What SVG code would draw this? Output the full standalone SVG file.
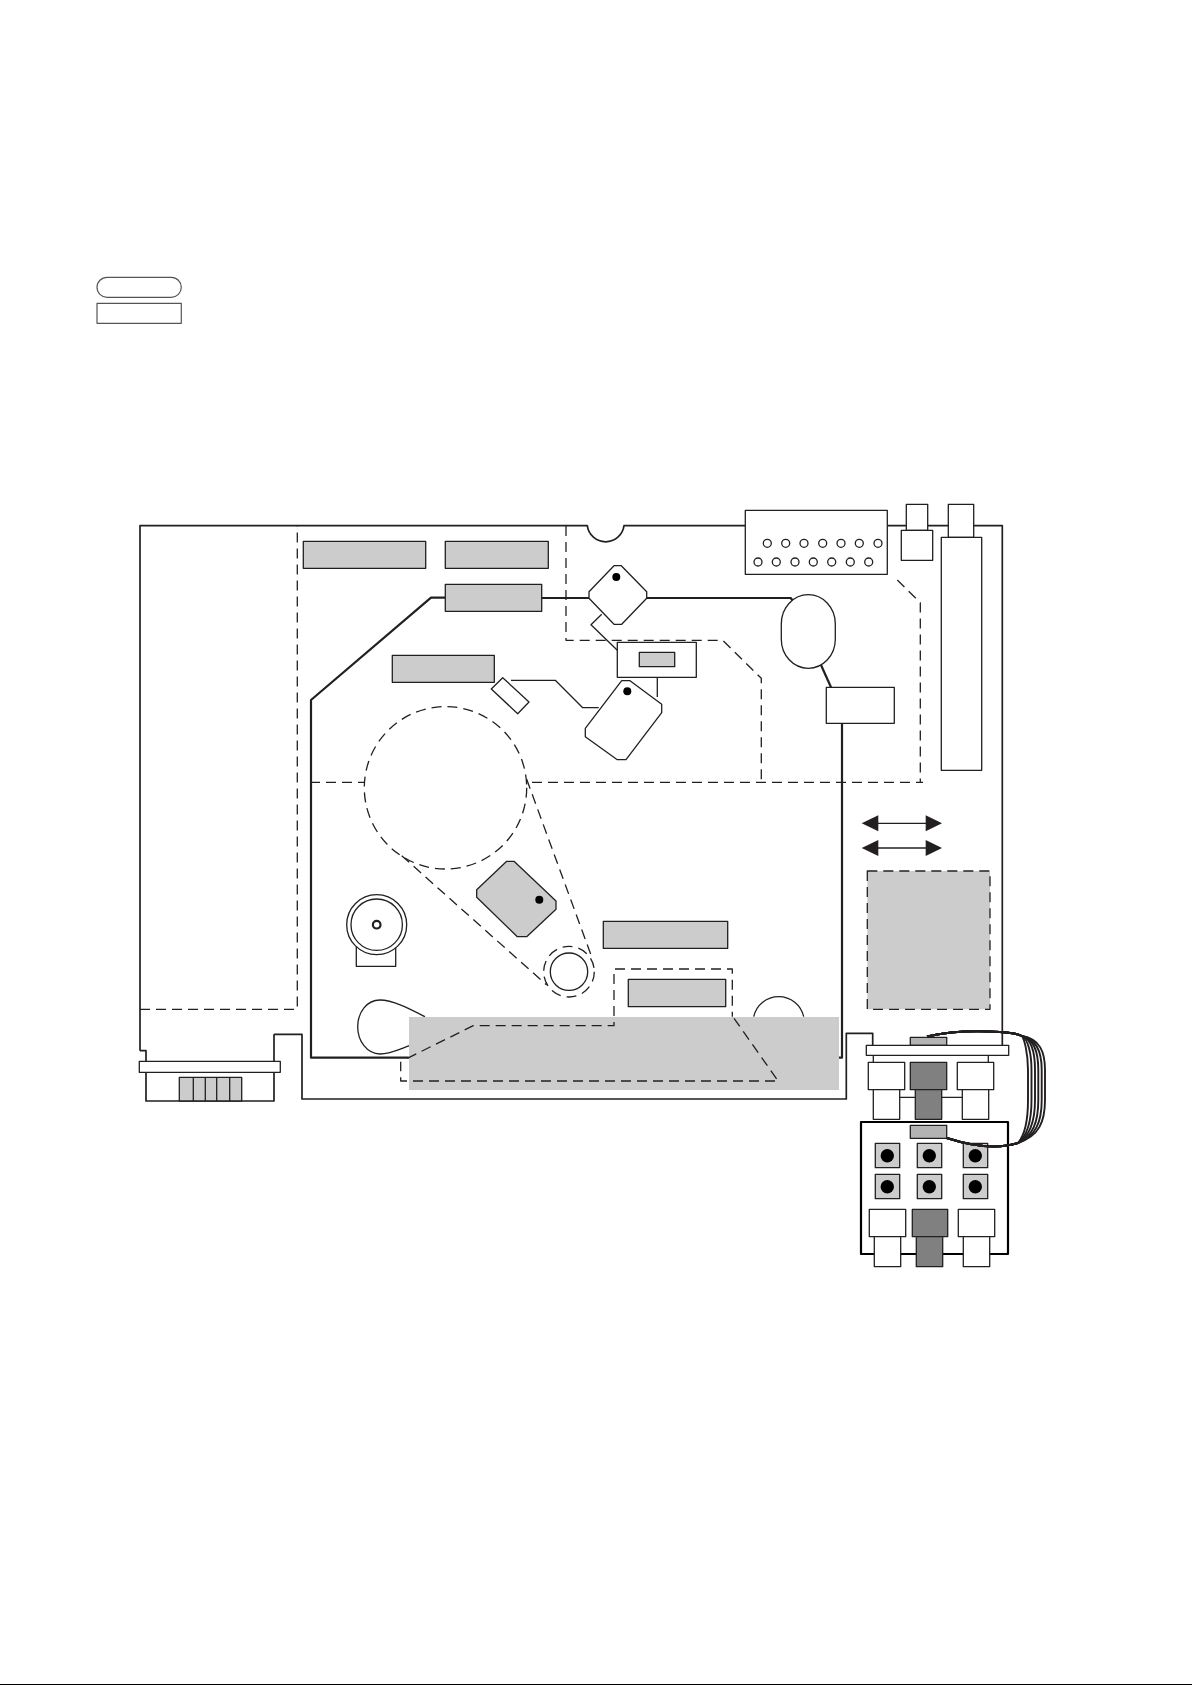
<svg xmlns="http://www.w3.org/2000/svg" width="1192" height="1685" viewBox="0 0 1192 1685">
<style>
path,rect,circle,polygon,line,polyline{stroke:#231f20;fill:none;stroke-linejoin:round}
.w{fill:#fff;stroke-width:1.3}
.g{fill:#ccc;stroke-width:1.3}
.m{fill:#b3b3b3;stroke-width:1.3}
.d{fill:#808080;stroke-width:1.3}
.t{stroke-width:1.3}
.l{stroke:#555;stroke-width:1.2}
.k{stroke-width:2.2}
.b{stroke-width:1.7}
.box{fill:#fff;stroke:#000;stroke-width:2.2}
.dash{stroke-width:1.3;stroke-dasharray:10 6}
.gd{fill:#ccc;stroke-width:1.3;stroke-dasharray:10 6}
.dot{fill:#000;stroke:none}
.bg{fill:#ccc;stroke:none}
.page{fill:#fff;stroke:none}
.edge{fill:#000;stroke:none}
.c{stroke-width:1.9}
.arrow{fill:#231f20;stroke:none}
</style>
<rect class="page" width="1192" height="1685"/>
<rect class="edge" x="0" y="1684" width="1192" height="1"/>
<g id="legend">
<rect class="l" x="97" y="277.3" width="84.3" height="20" rx="10" ry="10"/>
<rect class="l" x="97" y="303.3" width="84.3" height="20"/>
</g>
<g id="board">
<path class="b" d="M274 1034.3H302V1099H846.3V1033.3H872.7V1046M140 1050.7V525.7H587.3A18.5 18.5 0 0 0 624 525.7H1002.3V1045M140 1050.7H146V1101H274V1034.3"/>
</g>
<g id="inner-board">
<path class="k" d="M408.7 1057.7H311V700L431 597.7H445"/>
<path class="k" d="M839 1057.7H842V723.3"/>
<path class="k" d="M821 665L831 687.3"/>
</g>
<g id="dashed-regions">
<path class="dash" d="M140 1009.3H297.3V526"/>
<path class="dash" d="M566 526V640.3H722.7L761.3 678.3V782"/>
<path class="dash" d="M897.3 580L920.3 602.7V782.3"/>
<path class="dash" d="M310 782.3H364"/>
<path class="dash" d="M532 782.3H923"/>
</g>
<g id="top-connector">
<rect class="w" x="745.3" y="510.3" width="142" height="64"/>
<circle class="t" cx="767.3" cy="543.3" r="4"/><circle class="t" cx="785.7" cy="543.3" r="4"/><circle class="t" cx="804" cy="543.3" r="4"/><circle class="t" cx="822.7" cy="543.3" r="4"/><circle class="t" cx="841" cy="543.3" r="4"/><circle class="t" cx="859.3" cy="543.3" r="4"/><circle class="t" cx="878" cy="543.3" r="4"/>
<circle class="t" cx="758" cy="562" r="4"/><circle class="t" cx="776.3" cy="562" r="4"/><circle class="t" cx="795" cy="562" r="4"/><circle class="t" cx="813.3" cy="562" r="4"/><circle class="t" cx="831.7" cy="562" r="4"/><circle class="t" cx="850.3" cy="562" r="4"/><circle class="t" cx="868.7" cy="562" r="4"/>
</g>
<g id="small-jack">
<rect class="w" x="906.3" y="504.3" width="21.4" height="26"/>
<rect class="w" x="901.3" y="530.3" width="31.4" height="30"/>
</g>
<g id="tall-jack">
<rect class="w" x="948.3" y="504.3" width="25.4" height="33"/>
<rect class="w" x="941.3" y="537.3" width="40.4" height="233"/>
</g>
<path class="k" id="inner-top-line" d="M541.7 598H589M646.7 598H790.7L793 601"/>
<g id="oval"><rect class="w" x="781.3" y="594.7" width="54" height="73.6" rx="27" ry="29"/></g>
<g id="box-right"><rect class="w" x="826.3" y="687.3" width="68" height="36"/></g>
<g id="gray-rect-1"><rect class="g" x="303.3" y="541.3" width="122.4" height="27"/></g>
<g id="gray-rect-2"><rect class="g" x="445.3" y="541.3" width="103" height="27"/></g>
<g id="gray-rect-3"><rect class="g" x="445.3" y="584.3" width="96.4" height="27"/></g>
<g id="gray-rect-4"><rect class="g" x="392.3" y="655.3" width="102" height="27"/></g>
<g id="diamond">
<polygon class="w" points="614,565.7 621.3,565.7 646.7,591.7 646.7,598.3 621.7,624.3 614,624.3 589,598.3 589,591.7"/>
<circle class="dot" cx="616.3" cy="577" r="4"/>
</g>
<g id="switch">
<rect class="w" x="617.3" y="642.3" width="79" height="35"/>
<rect class="g" x="639.3" y="652.3" width="35.4" height="14.4"/>
</g>
<g id="connectors">
<path class="t" d="M601.7 614.3L591 624.7L617.3 650.3"/>
<path class="t" d="M657.3 677.3V697"/>
<path class="t" d="M511 680.3H555.3L582.7 707.7H598.7"/>
</g>
<g id="small-tilted"><polygon class="w" points="502.7,677.7 529,702 517.7,713.7 491.3,689"/></g>
<g id="tag">
<polygon class="w" points="621.7,680.7 630,680.7 661.7,704.3 661.7,712.7 626,759.7 617.3,759.7 585.3,736.7 585.3,728.3"/>
<circle class="dot" cx="627.3" cy="691.3" r="4"/>
</g>
<g id="drum">
<circle class="dash" cx="445.5" cy="787.8" r="81.2"/>
<path class="dash" d="M401.7 855.7L546.7 985"/>
<path class="dash" d="M526.7 779.3L591 955"/>
<circle class="t" cx="569" cy="971.7" r="18.7"/>
<circle class="dash" cx="569" cy="971.7" r="25.3"/>
</g>
<g id="gray-tag">
<polygon class="g" points="506.7,861.3 514,861.3 556,901 556,909.3 526.7,936.7 517.3,936.7 476.7,897.3 476.7,889.7"/>
<circle class="dot" cx="539.3" cy="899.7" r="4"/>
</g>
<g id="motor">
<rect class="w" x="356.3" y="940" width="39.4" height="26.3"/>
<circle class="w" cx="376.7" cy="924.7" r="30"/>
<circle class="t" cx="376.7" cy="924.7" r="25.7"/>
<circle class="k" cx="376.7" cy="924.7" r="3.8"/>
</g>
<g id="gray-rect-5"><rect class="g" x="603.3" y="921.3" width="124.4" height="27"/></g>
<g id="gray-rect-6"><rect class="g" x="628.3" y="979.3" width="97.4" height="27.4"/></g>
<g id="teardrop"><path class="t" d="M425 1016.7C410 1009 393 1000 380 1000C367 1000 357.7 1012 357.7 1026.7C357.7 1041 367 1054 380 1054C390 1054 400 1049 409.3 1045.7"/></g>
<g id="half-circle"><path class="t" d="M753.7 1016.7A25.6 25.6 0 0 1 803.7 1016.7"/></g>
<g id="gray-band"><rect class="bg" x="409" y="1017" width="430" height="73"/></g>
<g id="dashed-band">
<path class="dash" d="M407.3 1058.3L473.3 1025.7H614V969H732.3V1016.7"/>
<path class="dash" d="M734 1018.3L776.7 1079"/>
<path class="dash" d="M775 1081H400.7V1061.7"/>
</g>
<g id="arrows">
<line class="t" x1="870" y1="823.3" x2="934" y2="823.3"/>
<polygon class="arrow" points="861.7,823.3 878.3,815.3 878.3,831.3"/>
<polygon class="arrow" points="942,823.3 925.7,815.3 925.7,831.3"/>
<line class="t" x1="870" y1="848" x2="934" y2="848"/>
<polygon class="arrow" points="861.7,848 878.3,840 878.3,856"/>
<polygon class="arrow" points="942,848 925.7,840 925.7,856"/>
</g>
<g id="gray-block"><rect class="gd" x="867.3" y="871" width="122.7" height="138.3"/></g>
<g id="left-connector">
<rect class="w" x="139.3" y="1061.3" width="141" height="11"/>
<rect class="g" x="179.3" y="1077.3" width="62.4" height="23.7"/>
<path class="t" d="M193.3 1077.3V1101M205.3 1077.3V1101M216.7 1077.3V1101M229.7 1077.3V1101"/>
</g>
<g id="bottom-assembly">
<rect class="m" x="910.3" y="1037.3" width="36.4" height="8"/>
<rect class="w" x="866.3" y="1045.3" width="142.4" height="10"/>
<path class="t" d="M873.3 1055.3V1062.3M988.3 1055.3V1062.3"/>
<path class="t" d="M899.7 1097.3H915.3M941.7 1097.3H962.3"/>
<rect class="w" x="868.3" y="1062.3" width="36.4" height="27.4"/>
<rect class="w" x="873.3" y="1089.7" width="26.4" height="29.6"/>
<rect class="d" x="910.3" y="1062.3" width="36.4" height="27.4"/>
<rect class="d" x="915.3" y="1089.7" width="26.4" height="29.6"/>
<rect class="w" x="957.3" y="1062.3" width="36.4" height="27.4"/>
<rect class="w" x="962.3" y="1089.7" width="26.4" height="29.6"/>
<rect class="box" x="861" y="1122" width="147" height="132"/>
<rect class="m" x="910.3" y="1125.3" width="36.4" height="13"/>
<rect class="g" x="875.3" y="1143.3" width="24.4" height="24.4"/><circle class="dot" cx="887.3" cy="1155.7" r="6.7"/>
<rect class="g" x="917.3" y="1143.3" width="24.4" height="24.4"/><circle class="dot" cx="929.3" cy="1155.7" r="6.7"/>
<rect class="g" x="963.3" y="1143.3" width="24.4" height="24.4"/><circle class="dot" cx="975.3" cy="1155.7" r="6.7"/>
<rect class="g" x="875.3" y="1174.3" width="24.4" height="24.4"/><circle class="dot" cx="887.3" cy="1186.7" r="6.7"/>
<rect class="g" x="917.3" y="1174.3" width="24.4" height="24.4"/><circle class="dot" cx="929.3" cy="1186.7" r="6.7"/>
<rect class="g" x="963.3" y="1174.3" width="24.4" height="24.4"/><circle class="dot" cx="975.3" cy="1186.7" r="6.7"/>
<rect class="w" x="869.3" y="1209.3" width="36.4" height="27.4"/>
<rect class="w" x="874.3" y="1236.7" width="26.4" height="30"/>
<rect class="d" x="912.3" y="1209.3" width="35.4" height="27.4"/>
<rect class="d" x="916.3" y="1236.7" width="26.4" height="30"/>
<rect class="w" x="958.3" y="1209.3" width="36.4" height="27.4"/>
<rect class="w" x="963.3" y="1236.7" width="26.4" height="30"/>
</g>
<g id="cables">
<path class="c" d="M927 1036.5C955 1030 985 1031 1000 1032C1010 1032.5 1018 1034 1022 1036C1024 1039 1028 1052 1028 1070V1100C1028 1122 1024 1136 1018 1143C1000 1149 975 1147 946.7 1138"/>
<path class="c" d="M927 1036.5C955 1030 985 1031 1000 1032C1010 1032.5 1018 1034 1022 1036C1027.5 1039 1031.5 1052 1031.5 1070V1100C1031.5 1122 1027 1136 1018 1143C1000 1149 975 1147 946.7 1138"/>
<path class="c" d="M927 1036.5C955 1030 985 1031 1000 1032C1010 1032.5 1018 1034 1022 1036C1031 1039 1035 1052 1035 1070V1100C1035 1122 1030 1136 1018 1143C1000 1149 975 1147 946.7 1138"/>
<path class="c" d="M927 1036.5C955 1030 985 1031 1000 1032C1010 1032.5 1018 1034 1022 1036C1034 1039 1038.3 1052 1038.3 1070V1100C1038.3 1122 1033 1136 1018 1143C1000 1149 975 1147 946.7 1138"/>
<path class="c" d="M927 1036.5C955 1030 985 1031 1000 1032C1010 1032.5 1018 1034 1022 1036C1037 1039 1041.7 1052 1041.7 1070V1100C1041.7 1122 1036 1136 1018 1143C1000 1149 975 1147 946.7 1138"/>
<path class="c" d="M927 1036.5C955 1030 985 1031 1000 1032C1010 1032.5 1018 1034 1022 1036C1040 1039 1045 1052 1045 1070V1100C1045 1122 1039 1136 1018 1143C1000 1149 975 1147 946.7 1138"/>
</g>
</svg>
